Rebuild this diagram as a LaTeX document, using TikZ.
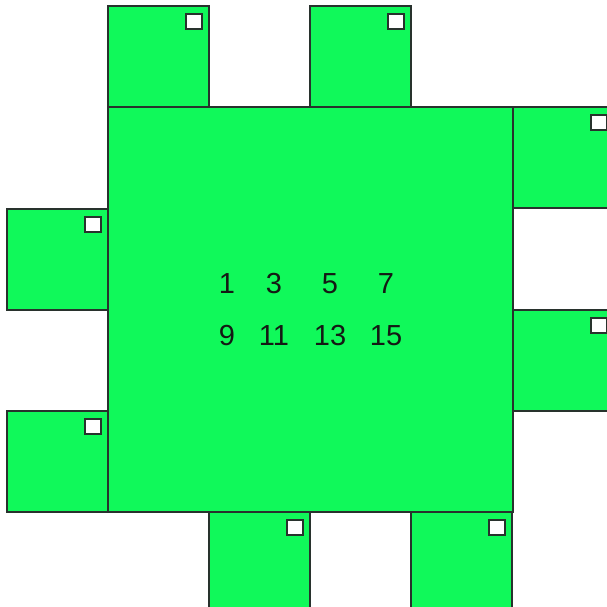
\documentclass[tikz,border=0pt]{standalone}
\usepackage{fontspec}
\setmainfont{Liberation Sans}
\usetikzlibrary{calc}
\definecolor{bg}{RGB}{16,249,90}
\definecolor{edge}{RGB}{40,50,45}
\definecolor{txt}{RGB}{20,25,20}
\begin{document}
\begin{tikzpicture}[x=1pt,y=-1pt,
  sq/.style={fill=bg,draw=edge,line width=1.3pt},
  whitebox/.style={fill=white,draw=edge,line width=1.3pt},
  num/.style={font=\fontsize{29}{29}\selectfont,text=txt,anchor=base,inner sep=0pt}]
\useasboundingbox (0,0) rectangle (607,606);
\clip (0,0) rectangle (607,606);
% main square
\draw[sq] (108,107) rectangle (513,512);
% small squares (top-left corners)
\foreach \x/\y in {108/6, 310/6, 513/107, 513/310, 7/209, 7/411, 209/512, 411/512}{
  \draw[sq] (\x,\y) rectangle ++(101,101);
  \draw[whitebox] ($(\x,\y)+(78,8)$) rectangle ++(16,15);
}
\foreach \t/\x in {1/227, 3/274, 5/330, 7/386}{
  \node[num] (a\t) at (\x,293) {\t};
}
\foreach \t/\x in {9/227, 11/274, 13/330, 15/386}{
  \node[num] (b\t) at (\x,345) {\t};
}
\end{tikzpicture}
\end{document}
